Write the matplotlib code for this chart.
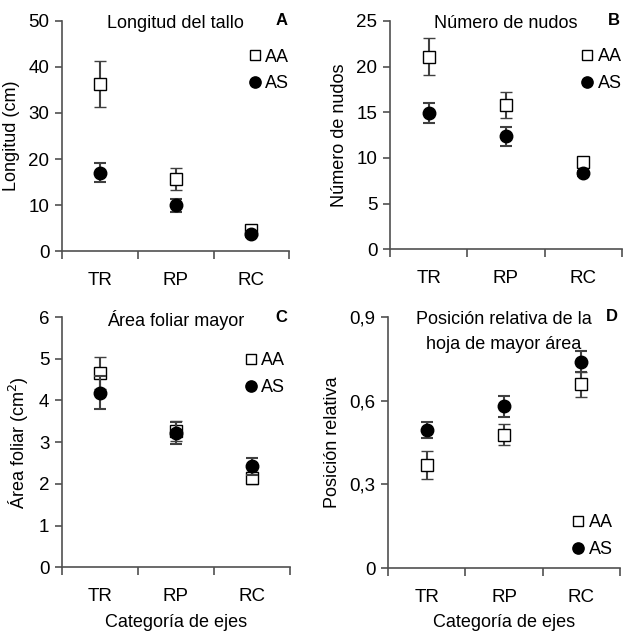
import matplotlib
matplotlib.use("Agg")
import matplotlib.pyplot as plt

plt.rcParams['font.family'] = ['Liberation Sans', 'DejaVu Sans']
plt.rcParams['font.size'] = 13

categories = ['TR', 'RP', 'RC']

# A: longitud del tallo
long_aa = [36.4, 15.7, 4.6]
long_aa_err = [5.0, 2.45, 0.5]
long_as = [17.0, 9.9, 3.6]
long_as_err = [2.1, 1.5, 0.5]

# B: numero de nudos
nud_aa = [21.1, 15.8, 9.5]
nud_aa_err = [2.0, 1.4, 0.3]
nud_as = [14.9, 12.35, 8.3]
nud_as_err = [1.1, 1.0, 0.3]

# C: area foliar mayor
area_aa = [4.66, 3.28, 2.14]
area_aa_err = [0.38, 0.24, 0.15]
area_as = [4.19, 3.22, 2.42]
area_as_err = [0.40, 0.26, 0.21]

# D: posicion relativa
pos_aa = [0.370, 0.478, 0.659]
pos_aa_err = [0.050, 0.038, 0.044]
pos_as = [0.494, 0.580, 0.740]
pos_as_err = [0.029, 0.037, 0.037]

axis_col = '#505050'
err_col = '#404040'

fig = plt.figure(figsize=(6.23, 6.34), dpi=100)


def panel(rect, aa, aa_err, as_, as_err, ymax, yticks, yticklabels, ylabel,
          title_lines, letter, leg_anchor, xlabel=None):
    ax = fig.add_axes(rect)
    x = [i + 0.5 for i in range(len(categories))]
    ax.errorbar(x, aa, yerr=aa_err, fmt='s', ms=8, mfc='white', mec='black',
                mew=1.0, ecolor=err_col, elinewidth=1.5, capsize=4, capthick=1.5,
                label='AA', zorder=3)
    ax.errorbar(x, as_, yerr=as_err, fmt='o', ms=9, mfc='black', mec='black',
                ecolor=err_col, elinewidth=1.5, capsize=4, capthick=1.5,
                label='AS', zorder=4)
    ax.set_xlim(0, 3)
    ax.set_ylim(0, ymax)
    ax.set_xticks([0, 1, 2, 3])
    ax.set_xticklabels([])
    ax.set_xticks(x, minor=True)
    ax.set_xticklabels(categories, minor=True, fontsize=13.5)
    ax.tick_params(axis='x', which='major', length=6, width=1.2, color=axis_col)
    ax.tick_params(axis='x', which='minor', length=0, pad=15)
    ax.set_yticks(yticks)
    ax.set_yticklabels(yticklabels, fontsize=13.5)
    ax.tick_params(axis='y', length=5, width=1.2, color=axis_col, pad=4)
    for s in ['top', 'right']:
        ax.spines[s].set_visible(False)
    for s in ['left', 'bottom']:
        ax.spines[s].set_color(axis_col)
        ax.spines[s].set_linewidth(1.2)
    ax.set_ylabel(ylabel, labelpad=6)
    if xlabel:
        ax.set_xlabel(xlabel, labelpad=6)
    for k, line in enumerate(title_lines):
        ax.annotate(line, (1.5, ymax), xytext=(0, -2 - 17.5 * k),
                    textcoords='offset points', ha='center', va='center')
    ax.text(2.97, ymax, letter, ha='right', va='center', fontweight='bold',
            fontsize=12)
    handles, labels = ax.get_legend_handles_labels()
    handles = [h[0] for h in handles]
    ax.legend(handles, labels, loc='upper right', bbox_to_anchor=leg_anchor,
              frameon=False, handletextpad=0.1, handlelength=1.0,
              labelspacing=0.55, borderaxespad=0, borderpad=0, markerscale=0.9)
    return ax


panel([0.0995, 0.604, 0.365, 0.363], long_aa, long_aa_err, long_as, long_as_err,
      50, [0, 10, 20, 30, 40, 50], ['0', '10', '20', '30', '40', '50'],
      'Longitud (cm)', ['Longitud del tallo'], 'A', (1.0, 0.88))
panel([0.626, 0.607, 0.372, 0.36], nud_aa, nud_aa_err, nud_as, nud_as_err,
      25, [0, 5, 10, 15, 20, 25], ['0', '5', '10', '15', '20', '25'],
      'Número de nudos', ['Número de nudos'], 'B', (1.0, 0.88))
panel([0.0995, 0.105, 0.366, 0.395], area_aa, area_aa_err, area_as, area_as_err,
      6, [0, 1, 2, 3, 4, 5, 6], ['0', '1', '2', '3', '4', '5', '6'],
      'Área foliar (cm$^2$)', ['Área foliar mayor'], 'C', (0.98, 0.86),
      xlabel='Categoría de ejes')
panel([0.623, 0.104, 0.372, 0.396], pos_aa, pos_aa_err, pos_as, pos_as_err,
      0.9, [0, 0.3, 0.6, 0.9], ['0', '0,3', '0,6', '0,9'],
      'Posición relativa',
      ['Posición relativa de la', 'hoja de mayor área'], 'D',
      (0.97, 0.215), xlabel='Categoría de ejes')

fig.savefig('out.png', dpi=100)
